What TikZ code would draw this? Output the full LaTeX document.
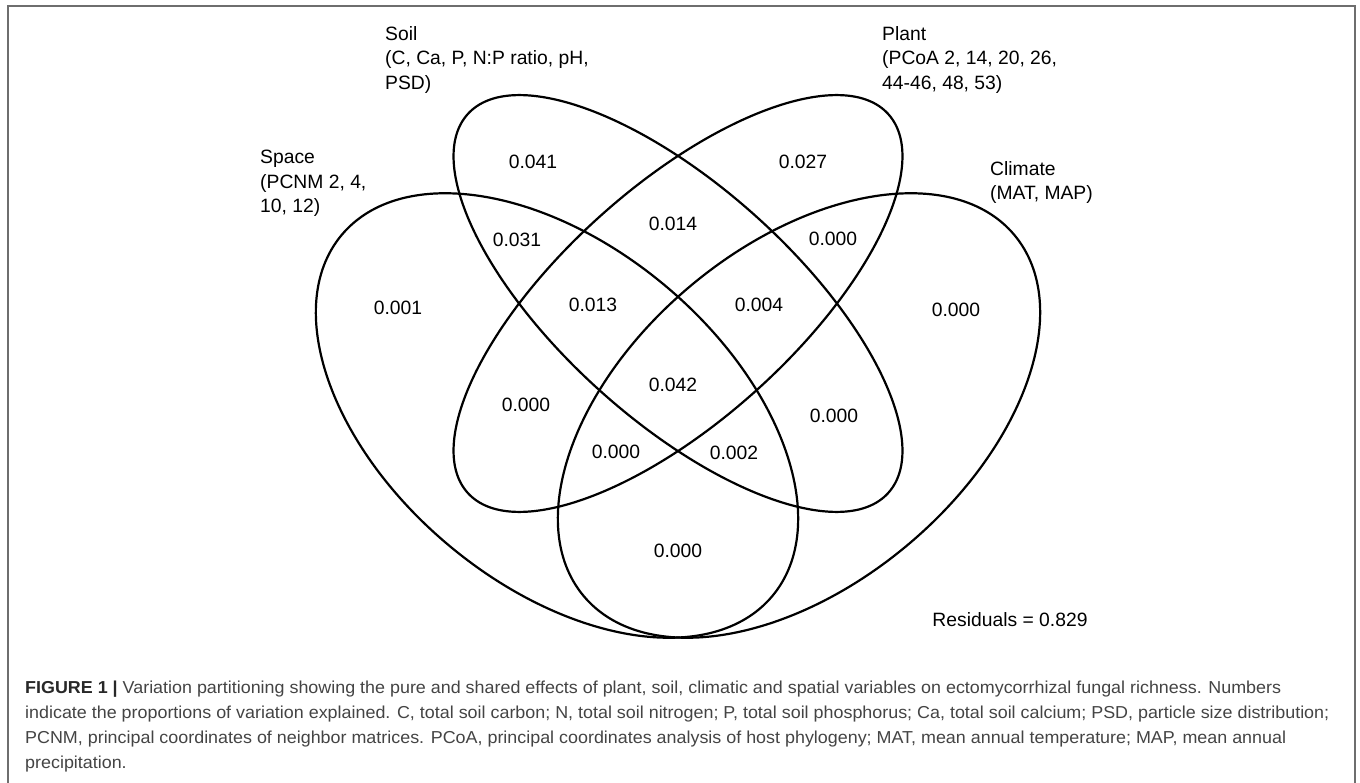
\documentclass[tikz,border=0pt]{standalone}
\usepackage{fontspec}
\setmainfont{Liberation Sans}
\newfontfamily\capfont[FakeStretch=1.035]{Liberation Sans}
\definecolor{framegray}{RGB}{110,110,110}
\definecolor{capgray}{RGB}{68,68,68}
\definecolor{captitle}{RGB}{40,40,40}
\begin{document}
\begin{tikzpicture}[x=1pt,y=-1pt,
  vline/.style={draw=black, line width=2.2pt},
  num/.style={inner sep=0pt, font=\fontsize{19.3}{24.5}\selectfont},
  grouplabel/.style={inner sep=0pt, anchor=north west, align=left, font=\fontsize{19.3}{24.5}\selectfont},
  captext/.style={inner sep=0pt, anchor=north west, align=left, text=capgray, font=\capfont\fontsize{17.3}{25}\selectfont},
  framebox/.style={draw=framegray, line width=1.3pt}]
\useasboundingbox (0,0) rectangle (1360,783);
\fill[white] (0,0) rectangle (1360,783);
\draw[framebox] (8,783) -- (8,6) -- (1355,6) -- (1355,783);

% Venn ellipses
\draw[vline, shift={(557,415.5)}, rotate=-40] (0,0) ellipse [x radius=281, y radius=169]; % Space
\draw[vline, shift={(799,415.5)}, rotate=40] (0,0) ellipse [x radius=281, y radius=169];  % Climate
\draw[vline, shift={(678,303.5)}, rotate=-42] (0,0) ellipse [x radius=283, y radius=117]; % Soil
\draw[vline, shift={(678,303.5)}, rotate=42] (0,0) ellipse [x radius=283, y radius=117];  % Plant

% group labels
\node[grouplabel] (soil) at (385,26) {Soil\\(C, Ca, P, N:P ratio, pH,\\PSD)};
\node[grouplabel] (plant) at (882,26) {Plant\\(PCoA 2, 14, 20, 26,\\44-46, 48, 53)};
\node[grouplabel] (space) at (260,150) {Space\\(PCNM 2, 4,\\10, 12)};
\node[grouplabel] (climate) at (990,161) {Climate\\(MAT, MAP)};

% values
\node[num] (v1) at (533,162) {0.041};
\node[num] (v2) at (803,162) {0.027};
\node[num] (v3) at (673,224) {0.014};
\node[num] (v4) at (517,240) {0.031};
\node[num] (v5) at (833,239) {0.000};
\node[num] (v6) at (398,308) {0.001};
\node[num] (v7) at (593,305) {0.013};
\node[num] (v8) at (759,305) {0.004};
\node[num] (v9) at (956,310) {0.000};
\node[num] (v10) at (673,385) {0.042};
\node[num] (v11) at (526,405) {0.000};
\node[num] (v12) at (834,416) {0.000};
\node[num] (v13) at (616,452) {0.000};
\node[num] (v14) at (734,453) {0.002};
\node[num] (v15) at (678,551) {0.000};
\node[num] (resid) at (1010,620) {Residuals = 0.829};

% caption
\node[captext] (caption) at (25,681) {{\color{captitle}\bfseries FIGURE 1 |} Variation partitioning showing the pure and shared effects of plant, soil, climatic and spatial variables on ectomycorrhizal fungal richness. Numbers\\
indicate the proportions of variation explained. C, total soil carbon; N, total soil nitrogen; P, total soil phosphorus; Ca, total soil calcium; PSD, particle size distribution;\\
PCNM, principal coordinates of neighbor matrices. PCoA, principal coordinates analysis of host phylogeny; MAT, mean annual temperature; MAP, mean annual\\
precipitation.};
\end{tikzpicture}
\end{document}
